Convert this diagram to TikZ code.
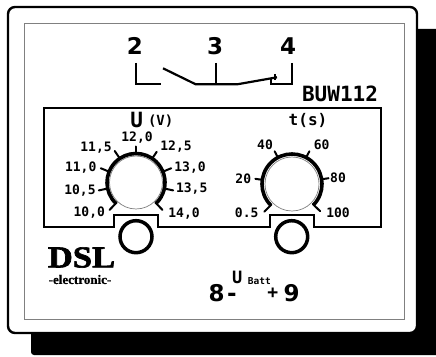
\documentclass[tikz,border=0pt]{standalone}
\usepackage{fontspec}
\setmainfont{DejaVu Sans Mono}[BoldFont={DejaVu Sans Mono Bold}]
\setsansfont{DejaVu Sans}[BoldFont={DejaVu Sans Bold}]
\newfontfamily\logofont{Liberation Serif Bold}[FakeBold=2]
\newfontfamily\brandfont{Liberation Serif Bold}[FakeBold=0.6]
\tikzset{
	tick/.style={line width=2pt,line cap=round},
	scalelabel/.style={font=\fontsize{13}{14}\selectfont\bfseries,inner sep=0pt},
	termlabel/.style={font=\sffamily\fontsize{23}{24}\selectfont\bfseries,inner sep=0pt},
	wire/.style={line width=2.2pt},
	knob/.style={line width=3.5pt}
}
\begin{document}
\begin{tikzpicture}[x=1pt,y=1pt]
	\useasboundingbox (0,0) rectangle (436,356);
	
	\fill[black,rounded corners=3pt](31,1) rectangle (442,327);
	\draw[line width=2.4pt,fill=white,rounded corners=7pt](8,23) rectangle (417,349);
	\draw[gray,line width=1pt](24.3,37) rectangle (404,332.7);
	
	
	\node[termlabel] (t2) at (135,310) {2};
	\node[termlabel] (t3) at (215,310) {3};
	\node[termlabel] (t4) at (288,310) {4};
	\draw[wire](136,293)--(136,271.7)--(161,271.7);
	\draw[wire](163,287.7)--(195.7,271.7)--(237.3,271.7)--(277,278.7);
	\draw[wire](216,293)--(216,271.7);
	\draw[wire](292,293)--(292,271.7)--(270.7,271.7)--(270.7,278);
	\draw[wire](275,282)--(275,276);
	\node[inner sep=0pt,font=\fontsize{21}{22}\selectfont\bfseries] (type) at (340,262) {BUW112};
	
	
	\draw[line width=2pt](44.3,248.3)--(381,248.3)--(381,128.5)--(314,128.5)--(314,141)
	--(270,141)--(270,128.5)--(158,128.5)--(158,141)--(114,141)--(114,128.5)--(44.3,128.5)--cycle;
	
	
	\coordinate (knobU) at (136,173.5);
	\draw[gray,line width=0.7pt](knobU) circle [radius=26.5];
	\draw[line width=3.6pt](knobU) ++(226:29) arc [start angle=226,end angle=-46,radius=29pt];
	\draw[tick](knobU) ++(226:28) -- ++(226:10);
	\draw[tick](knobU) ++(192:29) -- ++(192:9);
	\draw[tick](knobU) ++(158:29) -- ++(158:9);
	\draw[tick](knobU) ++(124:29) -- ++(124:9);
	\draw[tick](knobU) ++(90:29) -- ++(90:7);
	\draw[tick](knobU) ++(56:29) -- ++(56:8);
	\draw[tick](knobU) ++(22:29) -- ++(22:9);
	\draw[tick](knobU) ++(-12:29) -- ++(-12:9);
	\draw[tick](knobU) ++(-46:28) -- ++(-46:10);
	
	\node[inner sep=0pt,font=\fontsize{21}{22}\selectfont\bfseries] (titleU) at (136.7,236) {U};
	\node[inner sep=0pt,font=\fontsize{14}{15}\selectfont\bfseries] (unitU) at (160.7,234.5) {(V)};
	\node[scalelabel] (u100) at (89.3,143.3) {10,0};
	\node[scalelabel] (u105) at (80,165.3) {10,5};
	\node[scalelabel] (u110) at (80.7,188.3) {11,0};
	\node[scalelabel] (u115) at (96,208.3) {11,5};
	\node[scalelabel] (u120) at (137,218) {12,0};
	\node[scalelabel] (u125) at (176,209.3) {12,5};
	\node[scalelabel] (u130) at (190,188.3) {13,0};
	\node[scalelabel] (u135) at (191.7,167) {13,5};
	\node[scalelabel] (u140) at (184,142) {14,0};
	
	
	\coordinate (knobT) at (292,172);
	\draw[gray,line width=0.7pt](knobT) circle [radius=27];
	\draw[line width=3.6pt](knobT) ++(225:30) arc [start angle=225,end angle=-44,radius=30pt];
	\draw[tick](knobT) ++(225:29) -- ++(225:10);
	\draw[tick](knobT) ++(172:30) -- ++(172:7);
	\draw[tick](knobT) ++(118:30) -- ++(118:7);
	\draw[tick](knobT) ++(62:30) -- ++(62:7);
	\draw[tick](knobT) ++(9:30) -- ++(9:7);
	\draw[tick](knobT) ++(-44:29) -- ++(-44:10);
	
	\node[inner sep=0pt,font=\fontsize{16}{17}\selectfont\bfseries] (titleT) at (308,236) {t(s)};
	\node[scalelabel] (t05) at (246.7,143.3) {0.5};
	\node[scalelabel] (t20) at (243.3,177.7) {20};
	\node[scalelabel] (t40) at (265,211) {40};
	\node[scalelabel] (t60) at (321.7,211) {60};
	\node[scalelabel] (t80) at (338,178.3) {80};
	\node[scalelabel] (t100) at (338,143.3) {100};
	
	
	\draw[knob](136,119.3) circle [radius=16];
	\draw[knob](291.7,119.3) circle [radius=16];
	
	
	\node[inner sep=0pt,xscale=1.08,yscale=0.95,font=\logofont\fontsize{32}{33}\selectfont] (logo) at (81.5,98.5) {DSL};
	\node[inner sep=0pt,font=\brandfont\fontsize{13}{14}\selectfont] (brand) at (80,76.5) {-electronic-};
	
	
	\node[termlabel] (t8) at (216.7,63.3) {8};
	\node[termlabel] (minus) at (232,58.5) {-};
	\node[inner sep=0pt,font=\fontsize{17}{18}\selectfont\bfseries] (battU) at (237.3,78.5) {U};
	\node[inner sep=0pt,font=\fontsize{9.5}{10}\selectfont\bfseries] (batt) at (259.3,75) {Batt};
	\node[inner sep=0pt,font=\fontsize{18}{19}\selectfont\bfseries] (plus) at (272.7,62.7) {+};
	\node[termlabel] (t9) at (291.7,63.3) {9};
	
\end{tikzpicture}
\end{document}
